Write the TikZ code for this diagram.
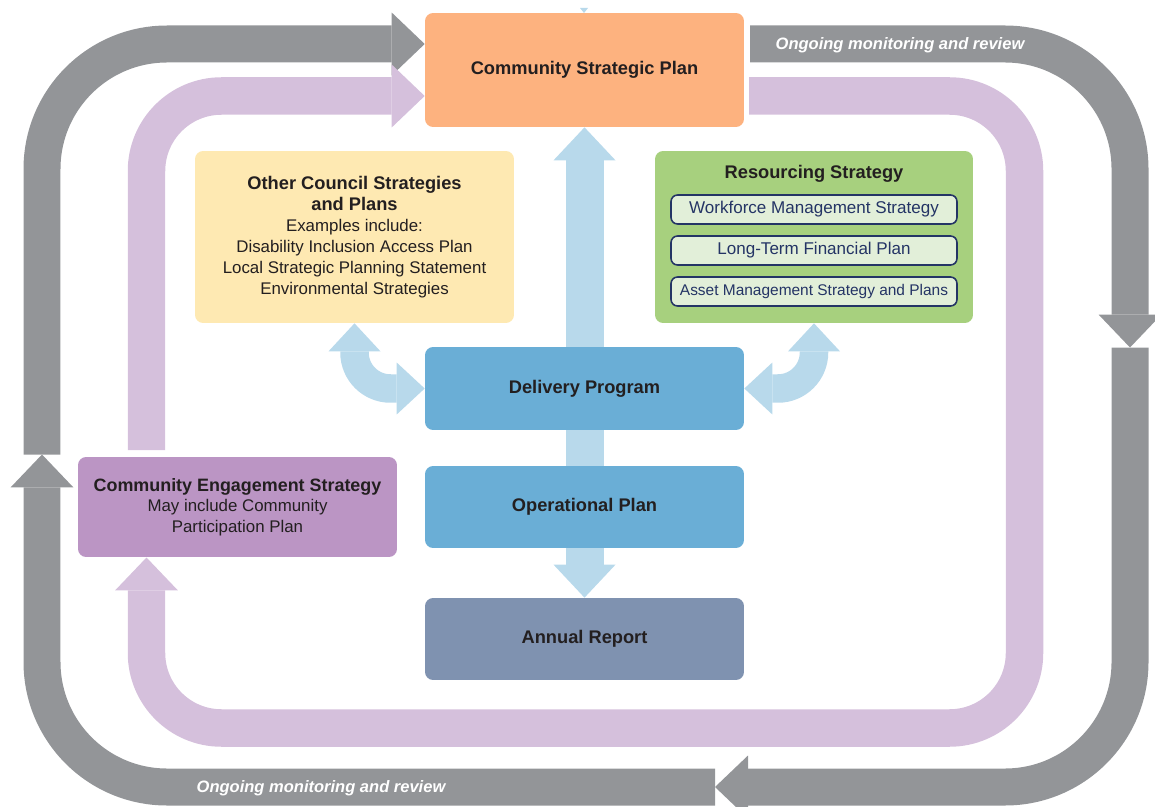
\documentclass[tikz,border=0pt]{standalone}
\usepackage{fontspec}
\setmainfont{Liberation Sans}
\usetikzlibrary{arrows.meta,backgrounds}

\definecolor{loopgray}{HTML}{939598}
\definecolor{lilac}{HTML}{D5C0DC}
\definecolor{paleblue}{HTML}{B8D9EB}
\definecolor{cspfill}{HTML}{FDB27F}
\definecolor{otherfill}{HTML}{FEE9B2}
\definecolor{resfill}{HTML}{A7D07E}
\definecolor{subfill}{HTML}{E2EFD9}
\definecolor{navy}{HTML}{243465}
\definecolor{dpfill}{HTML}{6AAED6}
\definecolor{arfill}{HTML}{7F92B0}
\definecolor{cesfill}{HTML}{BB95C4}
\definecolor{ink}{HTML}{231F20}

\newcommand{\sublabel}[1]{{\mdseries\fontsize{9.6}{11.6}\selectfont #1}}

\begin{document}
\begin{tikzpicture}[x=0.02cm,y=-0.02cm,
    box/.style={rounded corners=0.16cm,inner sep=0pt,align=center,text=ink,
        font=\fontsize{10.4}{11.9}\selectfont\bfseries},
    subbox/.style={draw=navy,line width=0.9pt,fill=subfill,rounded corners=0.13cm,
        minimum width=5.72cm,minimum height=0.58cm,inner sep=0pt,text=navy},
    grayarrow/.style={loopgray,line width=0.74cm,rounded corners=2.5cm,
        -{Triangle[length=0.66cm,width=1.26cm,line width=0pt]}},
    lilacarrow/.style={lilac,line width=0.75cm,rounded corners=1.5cm,
        -{Triangle[length=0.66cm,width=1.26cm,line width=0pt]}},
    bluearrow/.style={paleblue,line width=0.76cm,
        -{Triangle[length=0.66cm,width=1.24cm,line width=0pt]}},
    bendarrow/.style={paleblue,line width=0.57cm,rounded corners=0.72cm,
        {Triangle[length=0.56cm,width=1.04cm,line width=0pt]}-{Triangle[length=0.56cm,width=1.04cm,line width=0pt]}},
    ongoing/.style={text=white,font=\fontsize{9.4}{11}\selectfont\bfseries\itshape}]
    \useasboundingbox (0,0) rectangle (1155,807);

    % boxes
    \node[box,fill=cspfill,minimum width=6.38cm,minimum height=2.28cm] (csp) at (584.5,70) {Community Strategic Plan};
    \node[box,fill=otherfill,minimum width=6.38cm,minimum height=3.44cm] (other) at (354.5,237)
        {Other Council Strategies\\and Plans\\\sublabel{Examples include:}\\\sublabel{Disability Inclusion Access Plan}\\
         \sublabel{Local Strategic Planning Statement}\\\sublabel{Environmental Strategies}};
    \node[box,fill=resfill,minimum width=6.36cm,minimum height=3.44cm] (resourcing) at (814,237) {};
    \node[box] (restitle) at (814,174) {Resourcing Strategy};
    \foreach \y/\nm/\fs/\txt in {209.5/workforce/9.7/Workforce Management Strategy,
                                 250.5/ltfp/9.7/Long-Term Financial Plan,
                                 291.5/asset/8.8/Asset Management Strategy and Plans}
        \node[subbox,font=\fontsize{\fs}{11}\selectfont] (\nm) at (814,\y) {\txt};
    \node[box,fill=dpfill,minimum width=6.38cm,minimum height=1.66cm] (delivery) at (584.5,388.5) {Delivery Program};
    \node[box,fill=dpfill,minimum width=6.38cm,minimum height=1.64cm] (operational) at (584.5,507) {Operational Plan};
    \node[box,fill=arfill,minimum width=6.38cm,minimum height=1.64cm] (annual) at (584.5,639) {Annual Report};
    \node[box,fill=cesfill,minimum width=6.38cm,minimum height=2.0cm,font=\fontsize{10.2}{11.6}\selectfont\bfseries] (engagement) at (237.5,507)
        {Community Engagement Strategy\\\sublabel{May include Community}\\\sublabel{Participation Plan}};

    % loop ends
    \coordinate (gstart) at (750,44);
    \coordinate (gtop) at (0,44);
    \coordinate (rgap) at (1130,347.5);
    \coordinate (bgap) at (715,787);
    \coordinate (lgap) at (42,454.5);
    \coordinate (lstart) at (749,96);
    \coordinate (ltop) at (0,96);
    \coordinate (lturn) at (1024.5,728);
    \coordinate (lup) at (146.5,450);
    \coordinate (lend) at (146.5,557.5);

    \begin{pgfonlayer}{background}
        \draw[grayarrow] (gstart) -| (rgap);
        \draw[grayarrow] (rgap) |- (bgap);
        \draw[grayarrow] (bgap) -| (lgap);
        \draw[grayarrow] (lgap) |- (csp.west |- gtop);
        \draw[lilacarrow] (lstart) -| (lturn) -| (lend);
        \draw[lilacarrow] (lup) |- (csp.west |- ltop);
        \draw[bluearrow] (operational.north) -- (csp.south);
        \draw[bluearrow] (operational.center) -- (annual.north);
        \draw[bendarrow] (other.south) |- (delivery.west);
        \draw[bendarrow] (resourcing.south) |- (delivery.east);
        \fill[paleblue] (580,8) -- (588,8) -- (584,13) -- cycle;
    \end{pgfonlayer}

    \node[ongoing] (revtop) at (900,45) {Ongoing monitoring and review};
    \node[ongoing] (revbottom) at (321,788) {Ongoing monitoring and review};
\end{tikzpicture}
\end{document}
